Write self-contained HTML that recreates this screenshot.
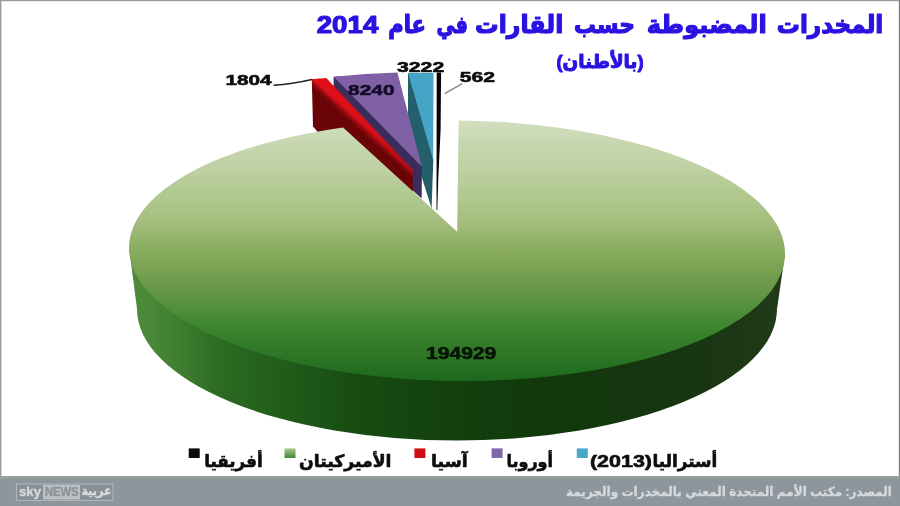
<!DOCTYPE html>
<html lang="ar">
<head>
<meta charset="utf-8">
<title>المخدرات المضبوطة حسب القارات في عام 2014</title>
<style>
html,body{margin:0;padding:0;background:#fff;}
body{width:900px;height:506px;overflow:hidden;position:relative;font-family:"Liberation Sans", "DejaVu Sans", sans-serif;}
svg{position:absolute;left:0;top:0;display:block;}
text{font-family:"Liberation Sans", "DejaVu Sans", sans-serif;font-weight:bold;}
</style>
</head>
<body>
<svg width="900" height="506" viewBox="0 0 900 506">
<defs>
<linearGradient id="gTop" gradientUnits="userSpaceOnUse" x1="0" y1="120" x2="0" y2="382">
<stop offset="0" stop-color="#d3dfc0"/>
<stop offset="0.08" stop-color="#c8d7b1"/>
<stop offset="0.2" stop-color="#bcd0a0"/>
<stop offset="0.38" stop-color="#a5bf7f"/>
<stop offset="0.5" stop-color="#88ac5e"/>
<stop offset="0.6" stop-color="#739d4e"/>
<stop offset="0.69" stop-color="#5a9340"/>
<stop offset="0.8" stop-color="#3b842d"/>
<stop offset="0.92" stop-color="#297324"/>
<stop offset="1" stop-color="#1e681d"/>
</linearGradient>
<linearGradient id="gSide" gradientUnits="userSpaceOnUse" x1="129" y1="0" x2="785" y2="0">
<stop offset="0" stop-color="#4f8a3b"/>
<stop offset="0.032" stop-color="#4a8838"/>
<stop offset="0.093" stop-color="#3a782c"/>
<stop offset="0.139" stop-color="#2d6b24"/>
<stop offset="0.185" stop-color="#27641f"/>
<stop offset="0.245" stop-color="#215b1a"/>
<stop offset="0.337" stop-color="#184d12"/>
<stop offset="0.5" stop-color="#12400d"/>
<stop offset="0.64" stop-color="#11380c"/>
<stop offset="0.87" stop-color="#183511"/>
<stop offset="1" stop-color="#223b18"/>
</linearGradient>
<linearGradient id="gRed" gradientUnits="userSpaceOnUse" x1="350" y1="113.7" x2="346" y2="118.1">
<stop offset="0" stop-color="#c40d16"/>
<stop offset="0.4" stop-color="#9a090f"/>
<stop offset="1" stop-color="#6a0406"/>
</linearGradient>
<linearGradient id="gRedTop" gradientUnits="userSpaceOnUse" x1="320" y1="79" x2="412" y2="170">
<stop offset="0" stop-color="#e01019"/>
<stop offset="0.6" stop-color="#d60f18"/>
<stop offset="1" stop-color="#a60a10"/>
</linearGradient>
<linearGradient id="gLeg" x1="0" y1="0" x2="0" y2="1">
<stop offset="0" stop-color="#a9c98c"/>
<stop offset="1" stop-color="#3f8a35"/>
</linearGradient>
</defs>
<rect x="0" y="0" width="900" height="506" fill="#ffffff"/>

<g id="slices">
<polygon points="436.7,72.4 441.1,72.4 440.6,130 438.3,178 437.3,210 436.5,210" fill="#050505"/>
<polygon points="408,73 415,73 433.3,160 431.6,208.5 422.3,178.7 408,133" fill="#23606c"/>
<polygon points="408,73 433.5,73 433.2,160" fill="#45a5c6"/>
<polygon points="333.6,76.8 340,76.4 421.9,166.6 421.7,198.6 333.6,120" fill="#3a2d5c"/>
<path d="M333.6,76.8 Q366,73 397.4,72.4 L421.7,166.6 Z" fill="#7f60a4"/>
<polygon points="311.8,79.3 320,78.8 412.8,169.8 413,200 320,135 313,126.2" fill="url(#gRed)"/>
<polygon points="311.8,79.3 326.3,78.1 412.8,169.8" fill="url(#gRedTop)"/>
</g>
<g id="big">
<path d="M129.02,247.27 L784.98,254.13 L777.0,309.0 A320.0,131.5 0 0 1 137.0,309.0 Z" fill="url(#gSide)"/>
<path d="M458.60,120.41 A328.0,130.3 0.6 1 1 343.10,127.50 L457.2,231.8 Z" fill="url(#gTop)"/>
</g>
<path d="M273.5,85.3 Q292,84 312,79.4" fill="none" stroke="#222" stroke-width="1.5"/>
<line x1="444.7" y1="93.6" x2="462.1" y2="83.6" stroke="#8a8a8a" stroke-width="1.6"/>
<rect x="0" y="476" width="900" height="30" fill="#8e969d"/>
<rect x="0" y="476" width="900" height="3" fill="#97a09b"/>
<rect x="0" y="0" width="900" height="1.2" fill="#9a9a9a"/>
<rect x="0" y="0" width="1.4" height="476" fill="#9a9a9a"/>
<rect x="898.8" y="0" width="1.2" height="476" fill="#808080"/>
<rect x="188.7" y="448.4" width="11" height="9.6" fill="#0a0a0a"/>
<rect x="284.5" y="448.4" width="11" height="9.6" fill="url(#gLeg)"/>
<rect x="414.4" y="448.4" width="11" height="9.6" fill="#cf0d12"/>
<rect x="491.6" y="448.4" width="11" height="9.6" fill="#7f66a8"/>
<rect x="576.8" y="448.4" width="11" height="9.6" fill="#47a8c8"/>
<text y="33" font-size="24.4" fill="#2a12e2" stroke="#2a12e2" stroke-width="1.2" stroke-linejoin="round"><tspan x="776.7" y="33" textLength="106.6" lengthAdjust="spacingAndGlyphs">المخدرات</tspan> <tspan x="646.7" y="33" textLength="120.0" lengthAdjust="spacingAndGlyphs">المضبوطة</tspan> <tspan x="574" y="33" textLength="61.0" lengthAdjust="spacingAndGlyphs">حسب</tspan> <tspan x="475" y="33" textLength="88.3" lengthAdjust="spacingAndGlyphs">القارات</tspan> <tspan x="436.5" y="33" textLength="31.5" lengthAdjust="spacingAndGlyphs">في</tspan> <tspan x="388.3" y="33" textLength="37.7" lengthAdjust="spacingAndGlyphs">عام</tspan> <tspan x="316.7" y="33" textLength="61.6" lengthAdjust="spacingAndGlyphs">2014</tspan></text>
<text x="556.5" y="68.1" font-size="19" fill="#2a12e2" stroke="#2a12e2" stroke-width="1.0" stroke-linejoin="round" textLength="87.0" lengthAdjust="spacingAndGlyphs" >(بالأطنان)</text>
<text x="225.4" y="84.7" font-size="15.3" fill="#0c0c0c" stroke="#0c0c0c" stroke-width="0.6" stroke-linejoin="round" textLength="46.2" lengthAdjust="spacingAndGlyphs" >1804</text>
<text x="348.0" y="94.6" font-size="15.3" fill="#140c28" stroke="#140c28" stroke-width="0.6" stroke-linejoin="round" textLength="46.6" lengthAdjust="spacingAndGlyphs" >8240</text>
<text x="397.0" y="72.1" font-size="15.3" fill="#0c0c0c" stroke="#0c0c0c" stroke-width="0.6" stroke-linejoin="round" textLength="47.2" lengthAdjust="spacingAndGlyphs" >3222</text>
<text x="459.8" y="82.2" font-size="15.3" fill="#0c0c0c" stroke="#0c0c0c" stroke-width="0.6" stroke-linejoin="round" textLength="35.2" lengthAdjust="spacingAndGlyphs" >562</text>
<text x="426" y="359.1" font-size="17" fill="#071407" stroke="#071407" stroke-width="0.6" stroke-linejoin="round" textLength="70.3" lengthAdjust="spacingAndGlyphs" >194929</text>
<text x="204.3" y="467.4" font-size="17" fill="#0c0c0c" stroke="#0c0c0c" stroke-width="0.6" stroke-linejoin="round" textLength="58.3" lengthAdjust="spacingAndGlyphs" >أفريقيا</text>
<text x="299" y="467.4" font-size="17" fill="#0c0c0c" stroke="#0c0c0c" stroke-width="0.6" stroke-linejoin="round" textLength="92.5" lengthAdjust="spacingAndGlyphs" >الأميركيتان</text>
<text x="431.1" y="467.4" font-size="17" fill="#0c0c0c" stroke="#0c0c0c" stroke-width="0.6" stroke-linejoin="round" textLength="36.6" lengthAdjust="spacingAndGlyphs" >آسيا</text>
<text x="506.5" y="467.4" font-size="17" fill="#0c0c0c" stroke="#0c0c0c" stroke-width="0.6" stroke-linejoin="round" textLength="46.5" lengthAdjust="spacingAndGlyphs" >أوروبا</text>
<text y="467.4" font-size="17" fill="#0c0c0c" stroke="#0c0c0c" stroke-width="0.6" stroke-linejoin="round"><tspan x="652.5" y="467.4" textLength="64.8" lengthAdjust="spacingAndGlyphs">أستراليا</tspan> <tspan x="589.9" y="467.4" textLength="62.1" lengthAdjust="spacingAndGlyphs">(2013)</tspan></text>
<text x="566" y="495.5" font-size="12.5" fill="#d6dadd" stroke="#d6dadd" stroke-width="0.3" stroke-linejoin="round" textLength="326.0" lengthAdjust="spacingAndGlyphs" >المصدر: مكتب الأمم المتحدة المعني بالمخدرات والجريمة</text>
<g id="logo">
<rect x="16.4" y="484" width="96.6" height="16.4" fill="#888f95" stroke="#b4babe" stroke-width="1"/>
<rect x="43" y="485" width="37" height="14.4" fill="#bcc1c5"/>
<text x="19" y="496" font-size="13" fill="#d8dcdf" stroke="#d8dcdf" stroke-width="0.3" stroke-linejoin="round" textLength="22.0" lengthAdjust="spacingAndGlyphs" >sky</text>
<text x="45" y="496.4" font-size="12" fill="#8a9298" stroke="#8a9298" stroke-width="0.3" stroke-linejoin="round" textLength="33.5" lengthAdjust="spacingAndGlyphs" >NEWS</text>
<text x="81.5" y="495.2" font-size="12.5" fill="#d8dcdf" stroke="#d8dcdf" stroke-width="0.4" stroke-linejoin="round" textLength="30.0" lengthAdjust="spacingAndGlyphs" >عربية</text>
</g>
</svg>
</body>
</html>
